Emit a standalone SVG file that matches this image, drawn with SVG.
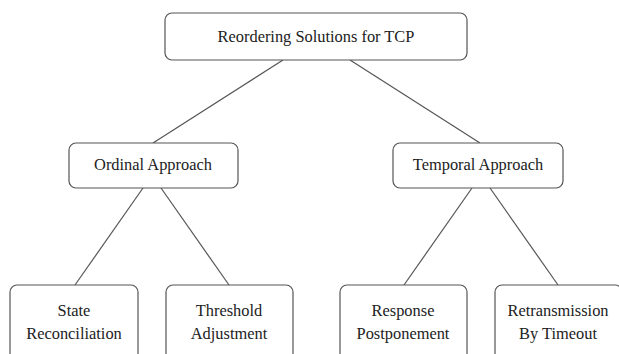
<svg xmlns="http://www.w3.org/2000/svg" width="619" height="354" viewBox="0 0 619 354">
<style>
.box{fill:#fff;stroke:#555;stroke-width:1.2}
.edge{stroke:#555;stroke-width:1.2;fill:none}
text{font-family:"Liberation Serif","Times New Roman",serif;font-size:16.4px;fill:#222;text-anchor:middle}
</style>
<rect width="619" height="354" fill="#fff"/>
<g id="connectors">
<line class="edge" x1="283" y1="60" x2="153" y2="143"/>
<line class="edge" x1="350" y1="60" x2="480" y2="143"/>
<line class="edge" x1="143" y1="188" x2="75" y2="285"/>
<line class="edge" x1="161" y1="188" x2="229" y2="285"/>
<line class="edge" x1="472" y1="188" x2="404" y2="285"/>
<line class="edge" x1="490" y1="188" x2="558" y2="285"/>
</g>
<g id="root">
<rect class="box" x="165" y="13" width="302" height="47" rx="7"/>
<text x="316" y="42">Reordering Solutions for TCP</text>
</g>
<g id="ordinal">
<rect class="box" x="69" y="143" width="169" height="45" rx="7"/>
<text x="153" y="170">Ordinal Approach</text>
</g>
<g id="temporal">
<rect class="box" x="393" y="143" width="170" height="45" rx="7"/>
<text x="478" y="170">Temporal Approach</text>
</g>
<g id="state">
<rect class="box" x="10" y="285" width="128" height="80" rx="7"/>
<text x="74" y="316">State</text>
<text x="74" y="339">Reconciliation</text>
</g>
<g id="threshold">
<rect class="box" x="166" y="285" width="127" height="80" rx="7"/>
<text x="229" y="316">Threshold</text>
<text x="229" y="339">Adjustment</text>
</g>
<g id="response">
<rect class="box" x="340" y="285" width="127" height="80" rx="7"/>
<text x="403" y="316">Response</text>
<text x="403" y="339">Postponement</text>
</g>
<g id="retransmission">
<rect class="box" x="495" y="285" width="127" height="80" rx="7"/>
<text x="558" y="316">Retransmission</text>
<text x="558" y="339">By Timeout</text>
</g>
</svg>
